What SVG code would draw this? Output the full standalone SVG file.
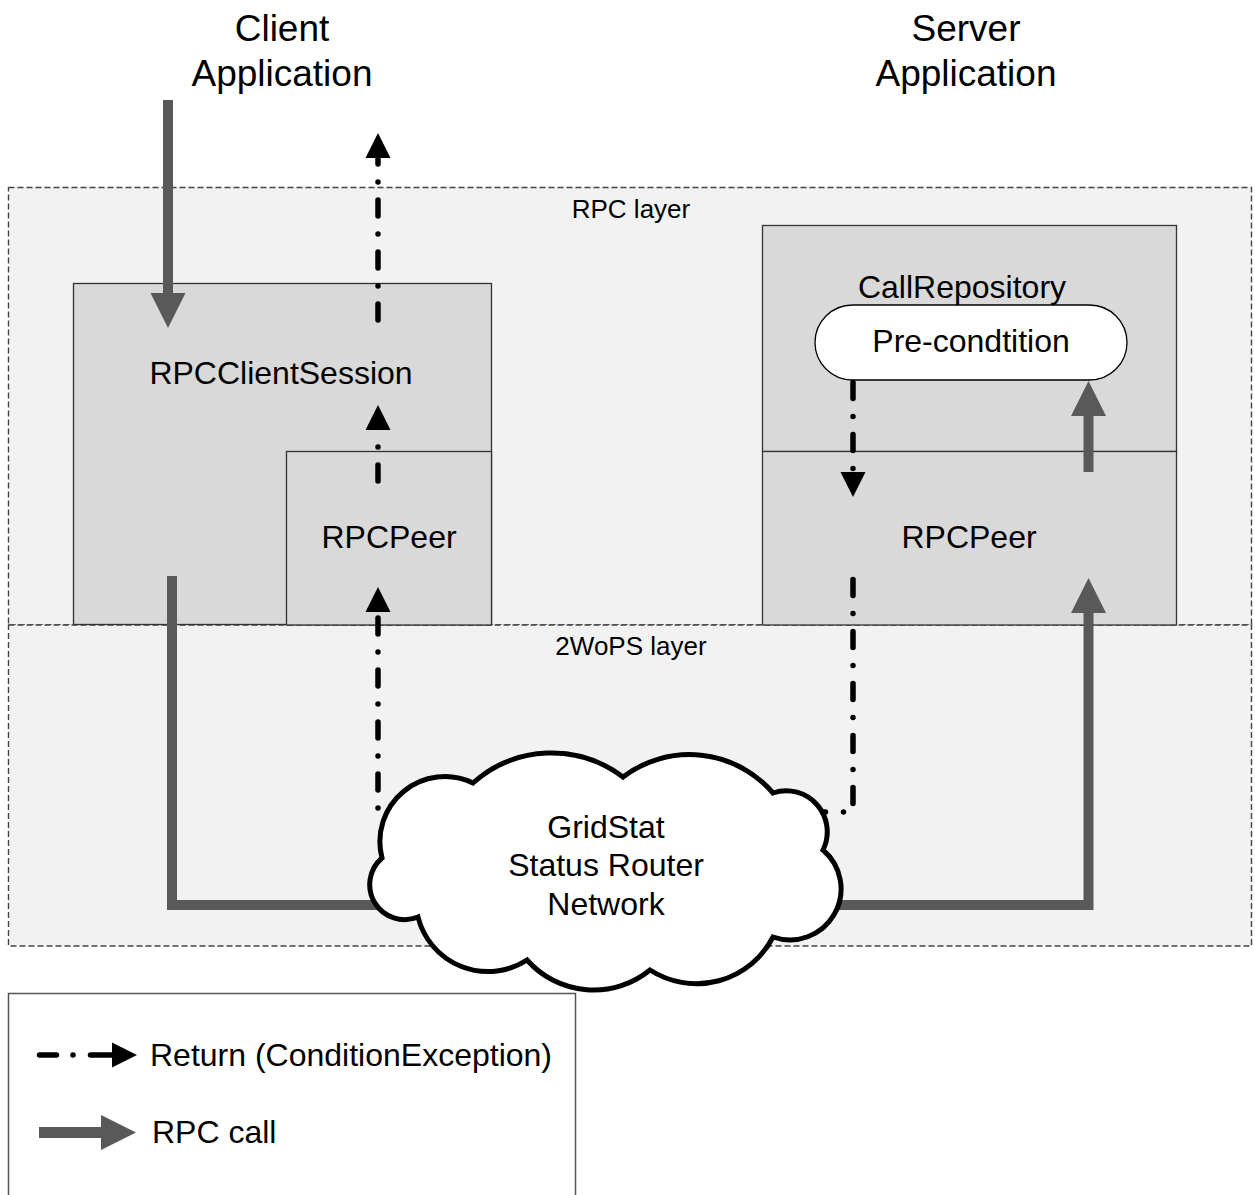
<svg xmlns="http://www.w3.org/2000/svg" width="1255" height="1195" viewBox="0 0 1255 1195">
  <style>
    text { font-family: "Liberation Sans", Arial, sans-serif; fill: #000; text-anchor: middle; }
    .title { font-size: 37px; }
    .label { font-size: 32px; }
    .layer-label { font-size: 26px; }
    .legend-text { font-size: 32px; text-anchor: start; }
    .layer { fill: #f2f2f2; stroke: #444; stroke-width: 1.4; stroke-dasharray: 6 3; }
    .box { fill: #d9d9d9; stroke: #333; stroke-width: 1.3; }
    .pill { fill: #fff; stroke: #000; stroke-width: 1.3; }
    .call { fill: none; stroke: #595959; stroke-width: 10; stroke-linejoin: miter; }
    .ret { fill: none; stroke: #000; stroke-width: 5.5; stroke-linecap: round; stroke-dasharray: 16 18 0 18; }
    .cloud { fill: #fff; stroke: #000; stroke-width: 5; stroke-linejoin: miter; }
  </style>
  <defs>
    <marker id="head-call" markerUnits="userSpaceOnUse" markerWidth="35" markerHeight="36" refX="0" refY="17.5" orient="auto" overflow="visible">
      <path d="M0,0 L35,17.5 L0,35 Z" fill="#595959"/>
    </marker>
    <marker id="head-ret" markerUnits="userSpaceOnUse" markerWidth="26" markerHeight="26" refX="0" refY="12.5" orient="auto" overflow="visible">
      <path d="M0,0 L25,12.5 L0,25 Z" fill="#000"/>
    </marker>
  </defs>

  <!-- titles -->
  <g id="client-application">
    <text class="title" x="282" y="41">Client</text>
    <text class="title" x="282" y="86">Application</text>
  </g>
  <g id="server-application">
    <text class="title" x="966" y="41">Server</text>
    <text class="title" x="966" y="86">Application</text>
  </g>

  <!-- layers -->
  <g id="rpc-layer">
    <rect class="layer" x="8.5" y="187.5" width="1243" height="437.5"/>
    <text class="layer-label" x="631" y="218">RPC layer</text>
  </g>
  <g id="wops-layer">
    <rect class="layer" x="8.5" y="625" width="1243" height="321"/>
    <text class="layer-label" x="631" y="655">2WoPS layer</text>
  </g>

  <!-- client side -->
  <g id="rpc-client-session">
    <rect class="box" x="73.5" y="283.5" width="418" height="341"/>
    <text class="label" x="281" y="384">RPCClientSession</text>
  </g>
  <g id="client-rpc-peer">
    <rect class="box" x="286.5" y="451.5" width="205" height="173.5"/>
    <text class="label" x="389" y="548">RPCPeer</text>
  </g>

  <!-- server side -->
  <g id="call-repository">
    <rect class="box" x="762.5" y="225.5" width="414" height="226"/>
    <text class="label" x="962" y="298">CallRepository</text>
  </g>
  <g id="pre-condition">
    <rect class="pill" x="815" y="305" width="312" height="75" rx="37.5" ry="37.5"/>
    <text class="label" x="971" y="352">Pre-condtition</text>
  </g>
  <g id="server-rpc-peer">
    <rect class="box" x="762.5" y="451.5" width="414" height="173.5"/>
    <text class="label" x="969" y="548">RPCPeer</text>
  </g>

  <!-- connectors -->
  <g id="connectors">
    <!-- RPC call path -->
    <path class="call" d="M168,100 V293" marker-end="url(#head-call)"/>
    <path class="call" d="M172,576 V905 H1088.5 V613" marker-end="url(#head-call)"/>
    <path class="call" d="M1088.5,472 V416" marker-end="url(#head-call)"/>
    <!-- return path -->
    <path class="ret" d="M853,382.5 V472" marker-end="url(#head-ret)"/>
    <path class="ret" d="M853,579.5 V812 H815"/>
    <path class="ret" style="stroke-dasharray:0 18 16 18" d="M378,808 V612" marker-end="url(#head-ret)"/>
    <path class="ret" d="M378,481 V430" marker-end="url(#head-ret)"/>
    <path class="ret" d="M378,320 V158" marker-end="url(#head-ret)"/>
  </g>

  <!-- network cloud -->
  <g id="gridstat-network">
    <path class="cloud" d="M473,783 A118,118 0 0 1 623,777 A110,110 0 0 1 773,793 A41,41 0 0 1 823,850 A51,51 0 0 1 773,937 A86,86 0 0 1 650,970 A89,89 0 0 1 527,960 A72,72 0 0 1 418,917 A35,35 0 0 1 382,858 A65,65 0 0 1 473,783 Z"/>
    <text class="label" x="606" y="838">GridStat</text>
    <text class="label" x="606" y="876">Status Router</text>
    <text class="label" x="606" y="915">Network</text>
  </g>

  <!-- legend -->
  <g id="legend">
    <rect x="8.5" y="993.5" width="567" height="215" fill="#fff" stroke="#555" stroke-width="1.5"/>
    <path class="ret" style="stroke-dasharray:17 16.5 0 17.5 40" d="M39.5,1055 H112" marker-end="url(#head-ret)"/>
    <text class="legend-text" x="150" y="1066">Return (ConditionException)</text>
    <path class="call" style="stroke-width:11" d="M39,1132.5 H101" marker-end="url(#head-call)"/>
    <text class="legend-text" x="152" y="1143">RPC call</text>
  </g>
</svg>
